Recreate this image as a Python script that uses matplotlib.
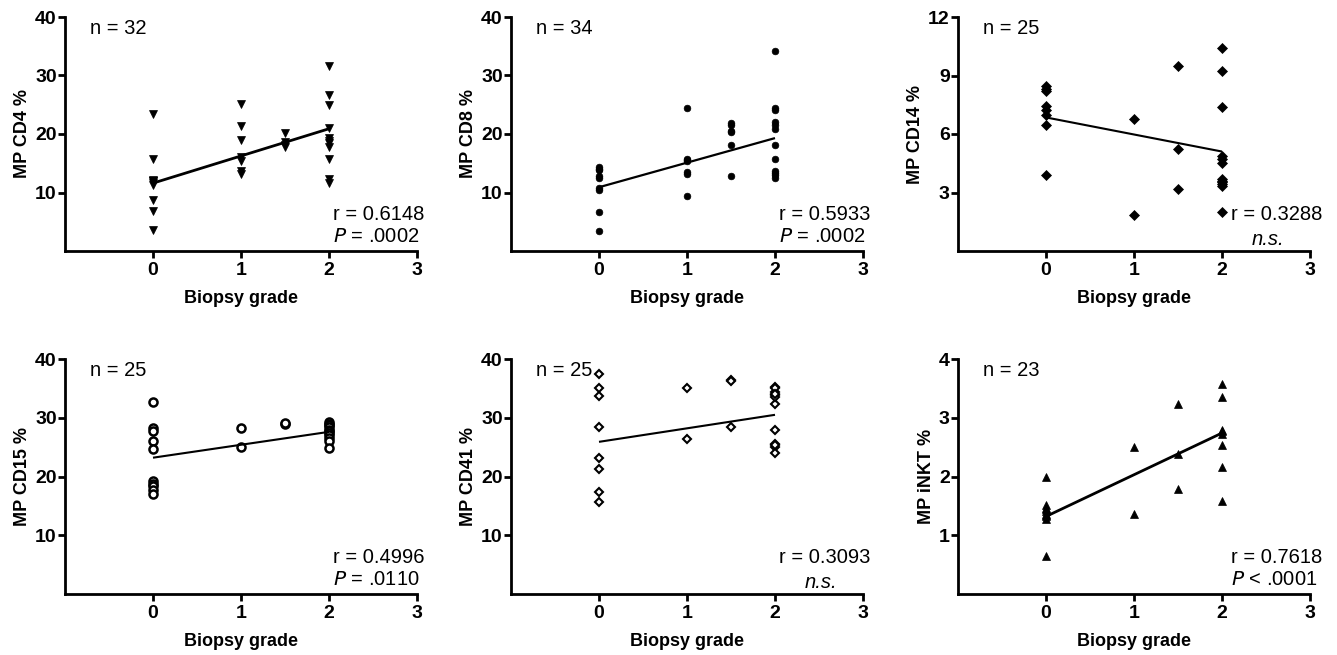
import matplotlib
matplotlib.use("Agg")
import matplotlib.pyplot as plt
import numpy as np

plt.rcParams['font.family'] = ['Liberation Sans', 'DejaVu Sans']

# ---------------- data ----------------
grades = [0, 1, 1.5, 2]

cd4_g0 = [23.5, 15.8, 12.2, 11.9, 11.6, 11.2, 8.7, 6.8, 3.6, 11.9]
cd4_g1 = [25.1, 21.3, 19.0, 16.0, 15.4, 13.6, 13.1]
cd4_g15 = [20.1, 18.6, 18.1, 17.7]
cd4_g2 = [31.7, 26.7, 25.0, 21.1, 19.3, 18.4, 17.8, 15.8, 12.3, 11.6, 18.8]

cd8_g0 = [14.4, 13.8, 12.4, 12.8, 10.8, 10.4, 6.6, 3.4, 14.0]
cd8_g1 = [24.4, 15.8, 15.3, 13.5, 13.1, 9.4, 15.5]
cd8_g15 = [21.9, 20.5, 18.2, 12.8, 21.5, 20.3]
cd8_g2 = [34.2, 24.5, 24.1, 22.0, 20.9, 18.2, 15.7, 13.6, 13.0, 12.4, 21.5, 13.3]

cd14_g0 = [8.45, 8.3, 8.2, 7.45, 7.25, 7.0, 6.45, 3.9]
cd14_g1 = [6.75, 1.85]
cd14_g15 = [9.5, 5.25, 3.2]
cd14_g2 = [10.4, 9.25, 7.4, 4.85, 4.5, 3.7, 3.55, 3.45, 3.35, 2.0, 4.7, 3.6]

cd15_g0 = [32.7, 28.3, 27.7, 26.1, 24.7, 19.3, 18.8, 18.3, 17.7, 17.0]
cd15_g1 = [28.2, 25.0]
cd15_g15 = [28.9, 29.1]
cd15_g2 = [29.3, 29.0, 28.7, 28.4, 28.0, 27.7, 27.4, 27.0, 26.5, 26.1, 24.8]

cd41_g0 = [37.5, 35.0, 33.7, 28.5, 23.1, 21.2, 17.4, 15.6]
cd41_g1 = [35.0, 26.3]
cd41_g15 = [36.5, 36.2, 28.5]
cd41_g2 = [35.2, 34.4, 33.8, 32.4, 28.0, 25.5, 25.0, 24.0, 35.0, 33.5, 25.3, 34.0]

inkt_g0 = [2.0, 1.52, 1.47, 1.42, 1.37, 1.32, 1.28, 0.64, 1.45, 1.35]
inkt_g1 = [2.5, 1.36]
inkt_g15 = [3.24, 2.39, 1.79]
inkt_g2 = [3.58, 3.35, 2.78, 2.54, 2.17, 1.59, 2.72, 2.80]

# regression line values at grade 0 and grade 2
fit_cd4 = [11.6, 20.9]
fit_cd8 = [10.9, 19.3]
fit_cd14 = [6.85, 5.1]
fit_cd15 = [23.2, 27.6]
fit_cd41 = [25.9, 30.5]
fit_inkt = [1.32, 2.74]

ylabels = ["MP CD4 %", "MP CD8 %", "MP CD14 %", "MP CD15 %", "MP CD41 %", "MP iNKT %"]
n_labels = ["n = 32", "n = 34", "n = 25", "n = 25", "n = 25", "n = 23"]
r_labels = ["r = 0.6148", "r = 0.5933", "r = 0.3288", "r = 0.4996", "r = 0.3093", "r = 0.7618"]
p_labels = ["$\\it{P}$ = .0002", "$\\it{P}$ = .0002", None, "$\\it{P}$ = .0110", None, "$\\it{P}$ < .0001"]
y_max = [40, 40, 12, 40, 40, 4]
y_ticks = [[10, 20, 30, 40], [10, 20, 30, 40], [3, 6, 9, 12],
           [10, 20, 30, 40], [10, 20, 30, 40], [1, 2, 3, 4]]
x_ticks = [0, 1, 2, 3]

panels = [
    (cd4_g0, cd4_g1, cd4_g15, cd4_g2, fit_cd4),
    (cd8_g0, cd8_g1, cd8_g15, cd8_g2, fit_cd8),
    (cd14_g0, cd14_g1, cd14_g15, cd14_g2, fit_cd14),
    (cd15_g0, cd15_g1, cd15_g15, cd15_g2, fit_cd15),
    (cd41_g0, cd41_g1, cd41_g15, cd41_g2, fit_cd41),
    (inkt_g0, inkt_g1, inkt_g15, inkt_g2, fit_inkt),
]

# styles
marker_styles = [
    dict(marker='v', ms=5.2, mfc='black', mec='black', mew=0.5),
    dict(marker='o', ms=4.8, mfc='black', mec='black', mew=0.5),
    dict(marker='D', ms=4.6, mfc='black', mec='black', mew=0.5),
    dict(marker='o', ms=5.8, mfc='white', mec='black', mew=1.8),
    dict(marker='D', ms=4.2, mfc='white', mec='black', mew=1.5),
    dict(marker='^', ms=5.2, mfc='black', mec='black', mew=0.5),
]
fit_lw = [2.0, 1.6, 1.5, 1.5, 1.5, 2.0]

# ---------------- figure ----------------
fig = plt.figure(figsize=(13.37, 6.55), dpi=100)
W, H = 1337, 655
lefts = [65, 511, 958]
tops = [17, 359]
bottoms = [251, 594]
aw = 352

for i, (g0, g1, g15, g2, fit) in enumerate(panels):
    row, col = divmod(i, 3)
    l = lefts[col] / W
    b = 1 - bottoms[row] / H
    h = (bottoms[row] - tops[row]) / H
    ax = fig.add_axes([l, b, aw / W, h])

    for g, vals in zip(grades, [g0, g1, g15, g2]):
        ax.plot([g] * len(vals), vals, linestyle='none', clip_on=False, zorder=3,
                **marker_styles[i])
    ax.plot([0, 2], fit, color='black', lw=fit_lw[i], zorder=4, solid_capstyle='butt')

    ax.set_xlim(-1, 3)
    ax.set_ylim(0, y_max[i])
    ax.set_xticks(x_ticks)
    ax.set_yticks(y_ticks[i])
    ax.spines['top'].set_visible(False)
    ax.spines['right'].set_visible(False)
    for s in ['left', 'bottom']:
        ax.spines[s].set_linewidth(2.0)
    ax.tick_params(direction='out', length=5, width=2.0, labelsize=14)
    ax.tick_params(axis='x', pad=3)
    ax.tick_params(axis='y', pad=1)
    for lab in ax.get_xticklabels() + ax.get_yticklabels():
        lab.set_fontweight('bold')
    ax.set_xlabel("Biopsy grade", fontsize=13, fontweight='bold', labelpad=8)
    ax.set_ylabel(ylabels[i], fontsize=13, fontweight='bold', labelpad=3)

    ax.text(0.071, 0.95, n_labels[i], transform=ax.transAxes, fontsize=14.5,
            ha='left', va='center')
    rx = 0.762 if col < 2 else 0.775
    ax.text(rx, 0.155, r_labels[i], transform=ax.transAxes, fontsize=14.5,
            ha='left', va='center', clip_on=False)
    if p_labels[i] is not None:
        ax.text(rx, 0.062, p_labels[i], transform=ax.transAxes, fontsize=14.5,
                ha='left', va='center', clip_on=False)
    else:
        ax.text(0.88, 0.05, "n.s.", transform=ax.transAxes, fontsize=14.5,
                style='italic', ha='center', va='center', clip_on=False)

fig.savefig("out.png", dpi=100)
